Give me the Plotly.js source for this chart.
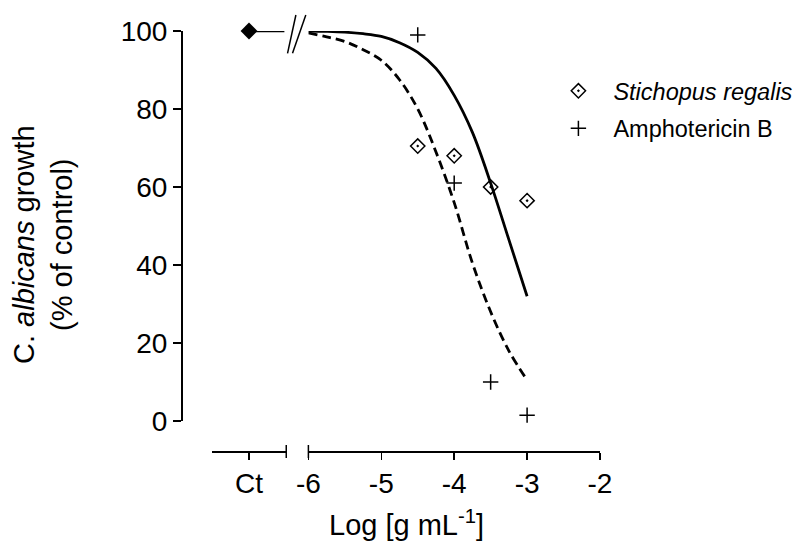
<!DOCTYPE html>
<html>
<head>
<meta charset="utf-8">
<script src="https://cdn.plot.ly/plotly-3.0.1.min.js"></script>
<style>html,body{margin:0;padding:0;background:#fff;}#chart{width:810px;height:549px;}</style>
</head>
<body>
<div id="chart"></div>
<script>
// Control (Ct) point
const ctX = [0];
const ctY = [100];
const ctLineX = [0, 0.95];
const ctLineY = [100, 100];

// Measured points (log concentration, % of control)
const doseX = [-4.5, -4, -3.5, -3];
const stichopusY = [70.5, 68, 60, 56.5];
const amphoY = [99, 61, 10, 1.5];

// Fitted curves
const curveX = [-6, -5.75, -5.5, -5.25, -5, -4.75, -4.5, -4.25, -4, -3.75, -3.5, -3.25, -3];
const stichopusFit = [100, 99.9, 99.7, 99.3, 98.6, 97, 94.5, 90.4, 83.5, 74, 61, 46.5, 32];
const amphoFit = [99.5, 98.5, 97.3, 95.2, 92.5, 87.5, 80, 69, 56, 40.5, 28, 18, 10.5];

const mainTicks = [-6, -5, -4, -3, -2];
const mainTickText = ['-6', '-5', '-4', '-3', '-2'];
const yTicks = [0, 20, 40, 60, 80, 100];

const FONT = 'Liberation Sans, Arial, sans-serif';
const L = 181, R = 603, TOP = 31, BOT = 451;
const W = R - L, H = BOT - TOP;
const px = v => (v - L) / W;
const py = v => (BOT - v) / H;

const traces = [
  {x: ctLineX, y: ctLineY, xaxis: 'x', yaxis: 'y', mode: 'lines', cliponaxis: false,
   line: {color: '#000', width: 2.5}, showlegend: false, hoverinfo: 'skip'},
  {x: ctX, y: ctY, xaxis: 'x', yaxis: 'y', mode: 'markers', cliponaxis: false,
   marker: {symbol: 'diamond', size: 13, color: '#000'}, showlegend: false},
  {x: curveX, y: stichopusFit, xaxis: 'x2', yaxis: 'y', mode: 'lines', cliponaxis: false,
   line: {color: '#000', width: 2.8, shape: 'spline'}, showlegend: false},
  {x: curveX, y: amphoFit, xaxis: 'x2', yaxis: 'y', mode: 'lines', cliponaxis: false,
   line: {color: '#000', width: 2.8, dash: '9px,5px', shape: 'spline'}, showlegend: false},
  {x: doseX, y: stichopusY, xaxis: 'x2', yaxis: 'y', mode: 'markers', cliponaxis: false,
   name: '<i>Stichopus regalis</i>', legendgroup: 'a',
   marker: {symbol: 'diamond-open-dot', size: 11, color: '#000', line: {width: 1.5, color: '#000'}}},
  {x: doseX, y: amphoY, xaxis: 'x2', yaxis: 'y', mode: 'markers', cliponaxis: false,
   name: 'Amphotericin B', legendgroup: 'b',
   marker: {symbol: 'cross-thin-open', size: 11, color: '#000', line: {width: 1.5, color: '#000'}}}
];

const axisCommon = {
  showgrid: false, zeroline: false, showline: true, linecolor: '#000', linewidth: 1.5,
  ticks: 'outside', tickcolor: '#000', tickwidth: 1.5, ticklen: 7,
  tickfont: {family: FONT, size: 28, color: '#000'}, fixedrange: true
};

const layout = {
  width: 810, height: 549,
  margin: {l: L, r: 810 - R, t: TOP, b: 549 - BOT, pad: 0},
  paper_bgcolor: '#fff', plot_bgcolor: '#fff',
  font: {family: FONT, color: '#000'},
  xaxis: Object.assign({}, axisCommon, {
    domain: [px(212), px(287)], range: [-1, 1], anchor: 'free', position: 0,
    tickmode: 'array', tickvals: ctX, ticktext: ['Ct']
  }),
  xaxis2: Object.assign({}, axisCommon, {
    domain: [px(309.3), 1], range: [-6, -2], anchor: 'free', position: 0,
    tickmode: 'array', tickvals: mainTicks, ticktext: mainTickText
  }),
  yaxis: Object.assign({}, axisCommon, {
    domain: [py(421), 1], range: [0, 100], anchor: 'free', position: 0,
    tickmode: 'array', tickvals: yTicks, ticklen: 8
  }),
  legend: {
    x: px(546), y: py(69), xanchor: 'left', yanchor: 'top', itemwidth: 60,
    font: {family: FONT, size: 23.5, color: '#000'},
    traceorder: 'grouped', tracegroupgap: 4, bgcolor: 'rgba(0,0,0,0)'
  },
  shapes: [
    {type: 'line', xref: 'paper', yref: 'paper', x0: px(288.3), y0: py(53.3), x1: px(296.7), y1: py(15), line: {color: '#000', width: 1.5}},
    {type: 'line', xref: 'paper', yref: 'paper', x0: px(293.3), y0: py(53.3), x1: px(306.7), y1: py(15), line: {color: '#000', width: 1.5}},
    {type: 'line', xref: 'paper', yref: 'paper', x0: px(287), y0: py(445), x1: px(287), y1: py(458), line: {color: '#000', width: 1.5}},
    {type: 'line', xref: 'paper', yref: 'paper', x0: px(309.3), y0: py(445), x1: px(309.3), y1: py(458), line: {color: '#000', width: 1.5}}
  ],
  annotations: [
    {xref: 'paper', yref: 'paper', x: px(408), y: py(523), xanchor: 'center', yanchor: 'middle',
     text: 'Log [g mL<sup>-1</sup>]', showarrow: false, font: {family: FONT, size: 29, color: '#000'}},
    {xref: 'paper', yref: 'paper', x: px(42), y: py(244), xanchor: 'center', yanchor: 'middle',
     textangle: -90, text: 'C. <i>albicans</i> growth<br>(% of control)', showarrow: false,
     font: {family: FONT, size: 29, color: '#000'}}
  ],
  showlegend: true
};

Plotly.newPlot('chart', traces, layout, {staticPlot: true, displayModeBar: false});
</script>
</body>
</html>
